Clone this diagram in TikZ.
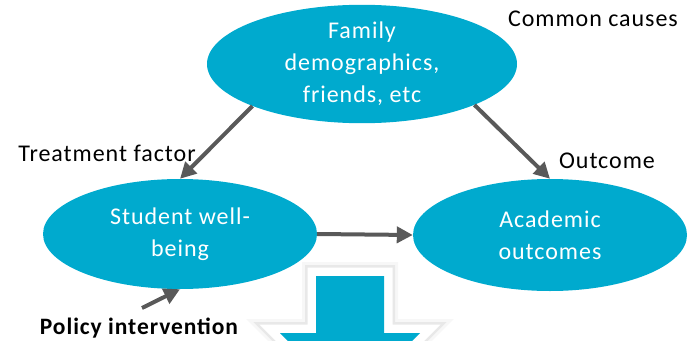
\documentclass[tikz,border=0pt]{standalone}
\usepackage{fontspec}
\setmainfont{Carlito}
\newfontfamily\ellfont[LetterSpace=4]{Carlito}
\newfontfamily\tagfont[LetterSpace=4]{Carlito}
\usetikzlibrary{arrows.meta, shapes.geometric}

\definecolor{bubble}{HTML}{00AACE}
\definecolor{arrowgray}{HTML}{595959}

\tikzset{
  cause/.style={ellipse, fill=bubble, text=white, align=center, inner sep=0pt,
    minimum width=274pt, minimum height=110pt,
    font={\ellfont\fontsize{24}{32}\selectfont}},
  link/.style={draw=arrowgray, line width=4pt, -{Triangle[length=16pt,width=16pt]}},
  tag/.style={anchor=base, font={\tagfont\fontsize{24}{26}\selectfont}}
}

\begin{document}
\begin{tikzpicture}[x=1pt,y=-1pt]
    \useasboundingbox (0,0) rectangle (688,340);
    \clip (0,0) rectangle (688,340);

    % big down arrow, cut off at the bottom
    \def\bigarrow{(316,276) -- (384,276) -- (384,333) -- (420,333) -- (350,403) -- (280,333) -- (316,333) -- cycle}
    \draw[gray!6, line width=28pt, line join=miter] \bigarrow;
    \draw[gray!18, line width=22pt, line join=miter] \bigarrow;
    \draw[white, line width=17pt, line join=miter] \bigarrow;
    \fill[bubble] \bigarrow;

    \node[cause, minimum width=310pt, minimum height=113pt] (fam) at (362,64) {Family\\demographics,\\friends, etc};
    \node[cause] (wb) at (180,234) {Student well-\\being};
    \node[cause, minimum height=112pt] (ac) at (550,235) {Academic\\outcomes};

    \node[tag] (common) at (593,26) {Common causes};
    \node[tag] (treat) at (107,161) {Treatment factor};
    \node[tag] (outc) at (607,168) {Outcome};
    \node[tag, font={\tagfont\fontsize{23.5}{26}\selectfont\bfseries}] (policy) at (139,334) {Policy intervention};

    \coordinate (pol) at (142,308);

    \draw[link] (fam.201) -- (wb.north);
    \draw[link] (fam.340) -- (ac.north);
    \draw[link] (wb.east) -- (ac.west);
    \draw[link] (pol) -- (wb.south);
\end{tikzpicture}
\end{document}
